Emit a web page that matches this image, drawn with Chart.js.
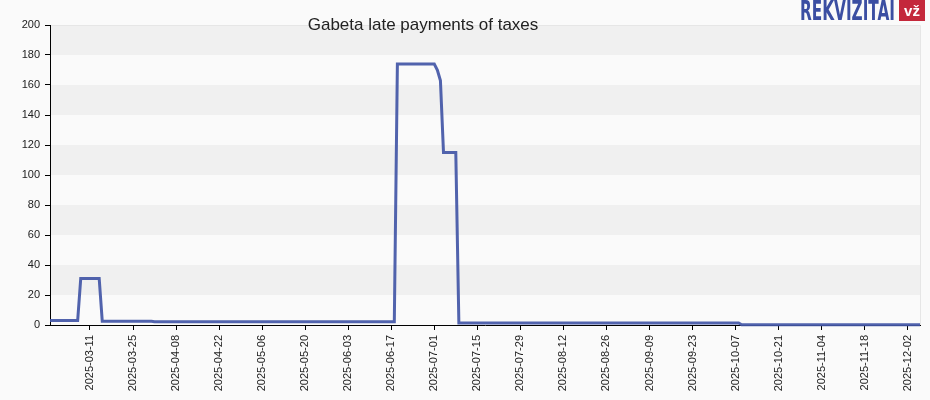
<!DOCTYPE html>
<html>
<head>
<meta charset="utf-8">
<script src="https://cdn.jsdelivr.net/npm/chart.js@4.4.0/dist/chart.umd.min.js"></script>
<style>
  html, body { margin: 0; padding: 0; background: #fafafa; }
  #wrap { width: 930px; height: 400px; }
</style>
</head>
<body>
<div id="wrap"><canvas id="taxChart" width="930" height="400"></canvas></div>
<script>
// Period shown on the x axis
const firstDay = '2025-02-26';
const lastDay = '2025-12-06';

// Dates where the debt changes (line vertices) and the debt on that date
const dates = [
  '2025-02-26', '2025-03-07', '2025-03-08', '2025-03-14', '2025-03-15',
  '2025-03-31', '2025-04-01', '2025-06-18', '2025-06-19', '2025-07-01',
  '2025-07-02', '2025-07-03', '2025-07-04', '2025-07-08', '2025-07-09',
  '2025-10-08', '2025-10-09', '2025-12-06'
];
const values = [
  3, 3, 31, 31, 2.5,
  2.5, 2.2, 2.2, 174, 174,
  170, 163, 115, 115, 1.4,
  1.4, 0.2, 0.2
];

// Tick labels on the x axis
const tickLabels = [
  '2025-03-11', '2025-03-25', '2025-04-08', '2025-04-22', '2025-05-06',
  '2025-05-20', '2025-06-03', '2025-06-17', '2025-07-01', '2025-07-15',
  '2025-07-29', '2025-08-12', '2025-08-26', '2025-09-09', '2025-09-23',
  '2025-10-07', '2025-10-21', '2025-11-04', '2025-11-18', '2025-12-02'
];

const titleText = 'Gabeta late payments of taxes';

// day number from an ISO date
function dayOf(d) {
  return Date.parse(d) / 86400000;
}

const points = dates.map((d, i) => ({ x: dayOf(d), y: values[i] }));

// background, grey bands and the thin frame of the plot
const bandsPlugin = {
  id: 'bands',
  beforeDraw(chart) {
    const { ctx, chartArea: a, scales: { y } } = chart;
    ctx.save();
    ctx.fillStyle = '#fafafa';
    ctx.fillRect(0, 0, chart.width, chart.height);
    for (let v = 20; v < 200; v += 40) {
      const top = y.getPixelForValue(v + 20);
      const bottom = y.getPixelForValue(v);
      ctx.fillStyle = '#f0f0f0';
      ctx.fillRect(a.left, top, a.right - a.left, bottom - top);
    }
    ctx.strokeStyle = '#e6e6e6';
    ctx.lineWidth = 1;
    ctx.beginPath();
    ctx.moveTo(a.left, a.top + 0.5);
    ctx.lineTo(a.right + 0.5, a.top + 0.5);
    ctx.lineTo(a.right + 0.5, a.bottom);
    ctx.stroke();
    ctx.restore();
  }
};

// title and the logo in the top right corner
const headerPlugin = {
  id: 'header',
  afterDraw(chart) {
    const ctx = chart.ctx;
    ctx.save();
    ctx.fillStyle = '#222';
    ctx.font = '17px "Liberation Sans", Arial, sans-serif';
    ctx.textAlign = 'center';
    ctx.textBaseline = 'alphabetic';
    ctx.fillText(titleText, 423, 30);

    // logo text
    ctx.font = 'bold 27px "Liberation Sans Narrow", "DejaVu Sans Condensed", sans-serif';
    ctx.textAlign = 'left';
    const w = ctx.measureText('REKVIZITAI').width;
    ctx.save();
    ctx.translate(800, 20);
    ctx.scale(95 / w, 1);
    ctx.fillStyle = '#3b4ea2';
    ctx.fillText('REKVIZITAI', 0, 0);
    ctx.restore();

    ctx.fillStyle = '#c4283b';
    ctx.fillRect(899, 0, 26, 21);
    ctx.fillStyle = '#fff';
    ctx.font = 'bold 15px "Liberation Sans", Arial, sans-serif';
    ctx.textAlign = 'center';
    ctx.fillText('vž', 912, 16);
    ctx.restore();
  }
};

const ctx = document.getElementById('taxChart').getContext('2d');
const chart = new Chart(ctx, {
  type: 'line',
  data: {
    datasets: [
      {
        label: 'Late payments',
        data: points,
        borderColor: 'rgba(66, 86, 166, 0.92)',
        borderWidth: 3,
        pointRadius: 0,
        tension: 0,
        fill: false,
        clip: false,
      },
    ],
  },
  options: {
    responsive: false,
    animation: false,
    layout: { padding: { top: 25, right: 10, left: 0, bottom: 0 } },
    plugins: {
      legend: { display: false },
      tooltip: { enabled: false },
    },
    scales: {
      x: {
        type: 'linear',
        min: dayOf(firstDay),
        max: dayOf(lastDay),
        afterBuildTicks: (s) => {
          s.ticks = tickLabels.map((d) => ({ value: dayOf(d) }));
        },
        afterFit: (s) => { s.height = 75; },
        ticks: {
          autoSkip: false,
          maxRotation: 90,
          minRotation: 90,
          padding: 5,
          color: '#222',
          font: { family: '"Liberation Sans", Arial, sans-serif', size: 11 },
          callback: (v, i) => tickLabels[i],
        },
        grid: { drawOnChartArea: false, tickLength: 5, color: '#000' },
        border: { color: '#000', width: 1 },
      },
      y: {
        min: 0,
        max: 200,
        afterFit: (s) => { s.width = 50; },
        ticks: {
          stepSize: 20,
          padding: 5,
          color: '#222',
          font: { family: '"Liberation Sans", Arial, sans-serif', size: 11 },
        },
        grid: { drawOnChartArea: false, tickLength: 5, color: '#000' },
        border: { color: '#000', width: 1 },
      },
    },
  },
  plugins: [bandsPlugin, headerPlugin],
});
</script>
</body>
</html>
